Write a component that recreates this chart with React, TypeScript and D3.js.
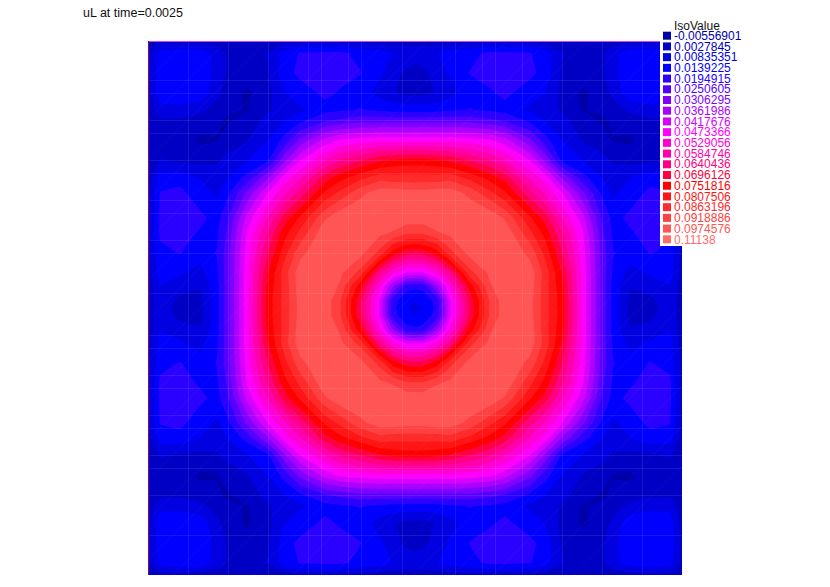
import { useMemo } from 'react'
import * as d3 from 'd3'

const W = 830
const H = 587
const PLOT = { left: 148, right: 682, top: 41, bottom: 575 }
const CENTER = { x: 415, y: 308 }

const title = 'uL at time=0.0025'
const legendTitle = 'IsoValue'
const isoLabels = [
  '-0.00556901', '0.0027845', '0.00835351', '0.0139225', '0.0194915',
  '0.0250605', '0.0306295', '0.0361986', '0.0417676', '0.0473366',
  '0.0529056', '0.0584746', '0.0640436', '0.0696126', '0.0751816',
  '0.0807506', '0.0863196', '0.0918886', '0.0974576', '0.11138',
]
const isoColors = [
  '#0000a8', '#0000c4', '#0000e0', '#0000ff', '#2a00ff',
  '#5500ff', '#8000ff', '#aa00ff', '#d500ff', '#ff00ff',
  '#ff00d5', '#ff00aa', '#ff0080', '#ff0040', '#ff0000',
  '#ff1515', '#ff2b2b', '#ff4040', '#ff5555', '#ff6a6a',
]

// distance from the middle of the square at which the field was read, px
const sampleDist = [0, 8, 22, 35, 55, 75, 90, 115, 130, 147, 168, 188, 198, 215, 235, 255, 267]

const quadrant = [
  [8, 12, 18, 44, 68, 90, 98, 97, 86, 75, 48, 25, 15, 4, 3, 9, 2],
  [12, 13, 19, 44, 69, 90, 98, 97, 86, 75, 48, 25, 15, 4, 4, 10, 2],
  [18, 19, 34, 51, 75, 94, 99, 98, 86, 74, 48, 25, 15, 6, 8, 11, 2],
  [44, 44, 51, 62, 87, 96, 100, 98, 87, 72, 48, 25, 16, 9, 12, 14, 3],
  [68, 69, 75, 87, 97, 99, 100, 93, 82, 67, 47, 25, 17, 14, 17, 15, 4],
  [90, 90, 94, 96, 99, 100, 99, 85, 76, 62, 45, 23, 16, 16, 19, 18, 4],
  [98, 98, 99, 100, 100, 99, 94, 79, 70, 56, 41, 21, 15, 18, 20, 18, 4],
  [97, 97, 98, 98, 93, 85, 79, 63, 55, 45, 29, 15, 10, 14, 18, 17, 4],
  [86, 86, 86, 87, 82, 76, 70, 55, 48, 33, 19, 11, 8, 11, 15, 14, 3],
  [75, 75, 74, 72, 67, 62, 56, 45, 33, 16, 11, 7, 5, 4, 5, 6, 2],
  [48, 48, 48, 48, 47, 45, 41, 29, 19, 11, 5, 3, -2, -3, 3, 3, 1],
  [25, 25, 25, 25, 25, 23, 21, 15, 11, 7, 3, -3, 1, 3, 5, 5, 1],
  [15, 15, 15, 16, 17, 16, 15, 10, 8, 5, -2, 1, 3, 7, 9, 9, 2],
  [4, 4, 6, 9, 14, 16, 18, 14, 11, 4, -3, 3, 7, 15, 16, 15, 3],
  [3, 4, 8, 12, 17, 19, 20, 18, 15, 5, 3, 5, 9, 16, 16, 15, 4],
  [9, 10, 11, 14, 15, 18, 18, 17, 14, 6, 3, 5, 9, 15, 15, 13, 4],
  [2, 2, 2, 3, 4, 4, 4, 4, 3, 2, 1, 1, 2, 3, 4, 4, 2],
]

// faint mesh lines left by the triangulation
const meshX = [188, 228, 268, 308, 321, 348, 361, 402, 442, 455, 482, 495, 522, 562, 602, 642]
const meshY = [80, 93, 120, 133, 160, 173, 200, 213, 240, 253, 293, 335, 348, 375, 388, 415, 428, 455, 468, 495, 535]
const meshDiag = [228, 268, 308, 348, 388, 428, 468, 508, 548, 588, 628, 668, 708, 748, 788, 828, 868, 908, 948, 988, 1028, 1068, 1108, 1148]

export default function App() {
  const bands = useMemo(() => {
    const idx = d3.range(sampleDist.length)
    const mirror = [...idx.slice(1).reverse().map(i => -i), ...idx]
    const at = (i: number) => (i < 0 ? -i : i)
    const n = mirror.length

    const values: number[] = []
    for (const j of mirror) for (const i of mirror) values.push(quadrant[at(j)][at(i)])

    const cells = d3.range(n).map(i => i + 0.5)
    const sx = d3.scaleLinear()
      .domain(cells)
      .range(mirror.map(i => CENTER.x + Math.sign(i) * sampleDist[at(i)]))
      .clamp(true)
    const sy = d3.scaleLinear()
      .domain(cells)
      .range(mirror.map(i => CENTER.y + Math.sign(i) * sampleDist[at(i)]))
      .clamp(true)

    const iso = isoLabels.map(d => +d * 1000)
    const thresholds = d3.pairs(iso).map(([a, b]) => (a + b) / 2)
    const polys = d3.contours().size([n, n]).thresholds(thresholds)(values)
    const path = d3.geoPath(d3.geoTransform({
      point(x, y) { this.stream.point(sx(x), sy(y)) },
    }))
    return polys.map((p, k) => ({ d: path(p) || '', color: isoColors[k + 1] }))
  }, [])

  const plotW = PLOT.right - PLOT.left
  const plotH = PLOT.bottom - PLOT.top
  const rowY = d3.scaleLinear().domain([0, isoLabels.length - 1]).range([35.7, 239.3])

  return (
    <svg width={W} height={H} style={{ position: 'absolute', left: 0, top: 0, background: '#fff' }}
      fontFamily="'Liberation Sans', Arial, sans-serif">
      <defs>
        <clipPath id="plot"><rect x={PLOT.left} y={PLOT.top} width={plotW} height={plotH} /></clipPath>
      </defs>

      <text x={83} y={16.5} fontSize={12.5} fill="#111">{title}</text>

      <g clipPath="url(#plot)">
        <rect x={PLOT.left} y={PLOT.top} width={plotW} height={plotH} fill={isoColors[0]} />
        {bands.map((b, i) => <path key={i} d={b.d} fill={b.color} />)}

        {/* mesh seams */}
        <g stroke="#fff" strokeOpacity={0.09} strokeWidth={1}>
          {meshX.map(x => <line key={x} x1={x + 0.5} x2={x + 0.5} y1={PLOT.top} y2={PLOT.bottom} />)}
          {meshY.map(y => <line key={y} y1={y + 0.5} y2={y + 0.5} x1={PLOT.left} x2={PLOT.right} />)}
        </g>
        <g stroke="#fff" strokeOpacity={0.04} strokeWidth={1}>
          {meshDiag.map(c => <line key={c} x1={PLOT.left} y1={c - PLOT.left} x2={PLOT.right} y2={c - PLOT.right} />)}
        </g>
      </g>

      <line x1={PLOT.left} x2={PLOT.right} y1={41.5} y2={41.5} stroke="#e040e0" />
      <line x1={148.5} x2={148.5} y1={PLOT.top} y2={PLOT.bottom} stroke="#8a0070" />

      {/* legend sits on a white box over the corner of the plot */}
      <rect x={660} y={18} width={22} height={228} fill="#fff" />
      <text x={674} y={30} fontSize={12} fill="#111">{legendTitle}</text>
      {isoLabels.map((label, i) => (
        <g key={label}>
          <rect x={663} y={rowY(i) - 4} width={8} height={8} fill={isoColors[i]} />
          <text x={674} y={rowY(i) + 4.2} fontSize={12} fill={isoColors[i]}>{label}</text>
        </g>
      ))}
    </svg>
  )
}
